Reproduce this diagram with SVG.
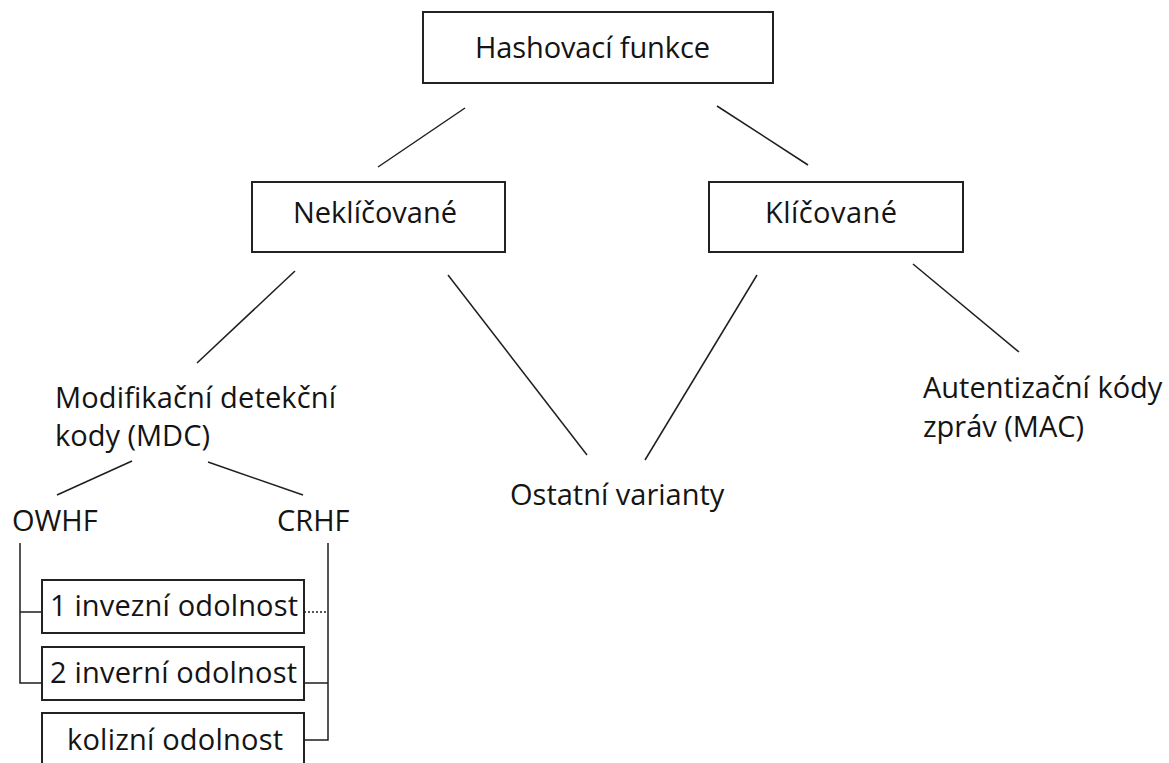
<svg xmlns="http://www.w3.org/2000/svg" width="1169" height="763" viewBox="0 0 1169 763">
  <style>
    .box { fill: #ffffff; stroke: #222222; stroke-width: 2; }
    .lbl { font-family: "Open Sans", "Liberation Sans", sans-serif; font-size: 29px; fill: #141414; }
    .conn line, .conn path { stroke: #1e1e1e; stroke-width: 1.5; fill: none; }
    .dot { stroke-dasharray: 2 2; }
  </style>
  <rect width="1169" height="763" fill="#ffffff"/>

  <!-- connectors -->
  <g id="connectors" class="conn">
    <line x1="465" y1="108" x2="378" y2="167"/>
    <line x1="717" y1="106" x2="808" y2="165"/>
    <line x1="295" y1="271" x2="197" y2="363"/>
    <line x1="448" y1="275" x2="587" y2="455"/>
    <line x1="757" y1="275" x2="645" y2="460"/>
    <line x1="913" y1="264" x2="1019" y2="352"/>
    <line x1="132" y1="461" x2="57" y2="495"/>
    <line x1="208" y1="462" x2="303" y2="495"/>
    <!-- OWHF bracket -->
    <path d="M20,543 V683 H42 M20,612 H42"/>
    <!-- CRHF bracket -->
    <path d="M328,543 V740 H304 M328,683 H304"/>
    <line class="dot" x1="304" y1="612" x2="328" y2="612"/>
  </g>

  <g id="hashovaci-funkce">
    <rect class="box" x="423" y="12" width="350" height="71"/>
    <text class="lbl" x="475" y="58" textLength="235">Hashovací funkce</text>
  </g>

  <g id="neklicovane">
    <rect class="box" x="252" y="182" width="253" height="70"/>
    <text class="lbl" x="293" y="223" textLength="164">Neklíčované</text>
  </g>

  <g id="klicovane">
    <rect class="box" x="709" y="182" width="254" height="70"/>
    <text class="lbl" x="765" y="223" textLength="132">Klíčované</text>
  </g>

  <g id="mdc">
    <text class="lbl" x="55" y="408" textLength="281">Modifikační detekční</text>
    <text class="lbl" x="55" y="446">kody (MDC)</text>
  </g>

  <g id="ostatni">
    <text class="lbl" x="510" y="505">Ostatní varianty</text>
  </g>

  <g id="mac">
    <text class="lbl" x="923" y="398">Autentizační kódy</text>
    <text class="lbl" x="923" y="437">zpráv (MAC)</text>
  </g>

  <g id="owhf">
    <text class="lbl" x="12" y="531">OWHF</text>
  </g>

  <g id="crhf">
    <text class="lbl" x="277" y="531">CRHF</text>
  </g>

  <g id="invezni">
    <rect class="box" x="42" y="580" width="262" height="53"/>
    <text class="lbl" x="50" y="616" textLength="248">1 invezní odolnost</text>
  </g>

  <g id="inverni">
    <rect class="box" x="42" y="647" width="262" height="53"/>
    <text class="lbl" x="50" y="683" textLength="247">2 inverní odolnost</text>
  </g>

  <g id="kolizni">
    <rect class="box" x="42" y="713" width="262" height="70"/>
    <text class="lbl" x="67" y="750" textLength="216">kolizní odolnost</text>
  </g>
</svg>
